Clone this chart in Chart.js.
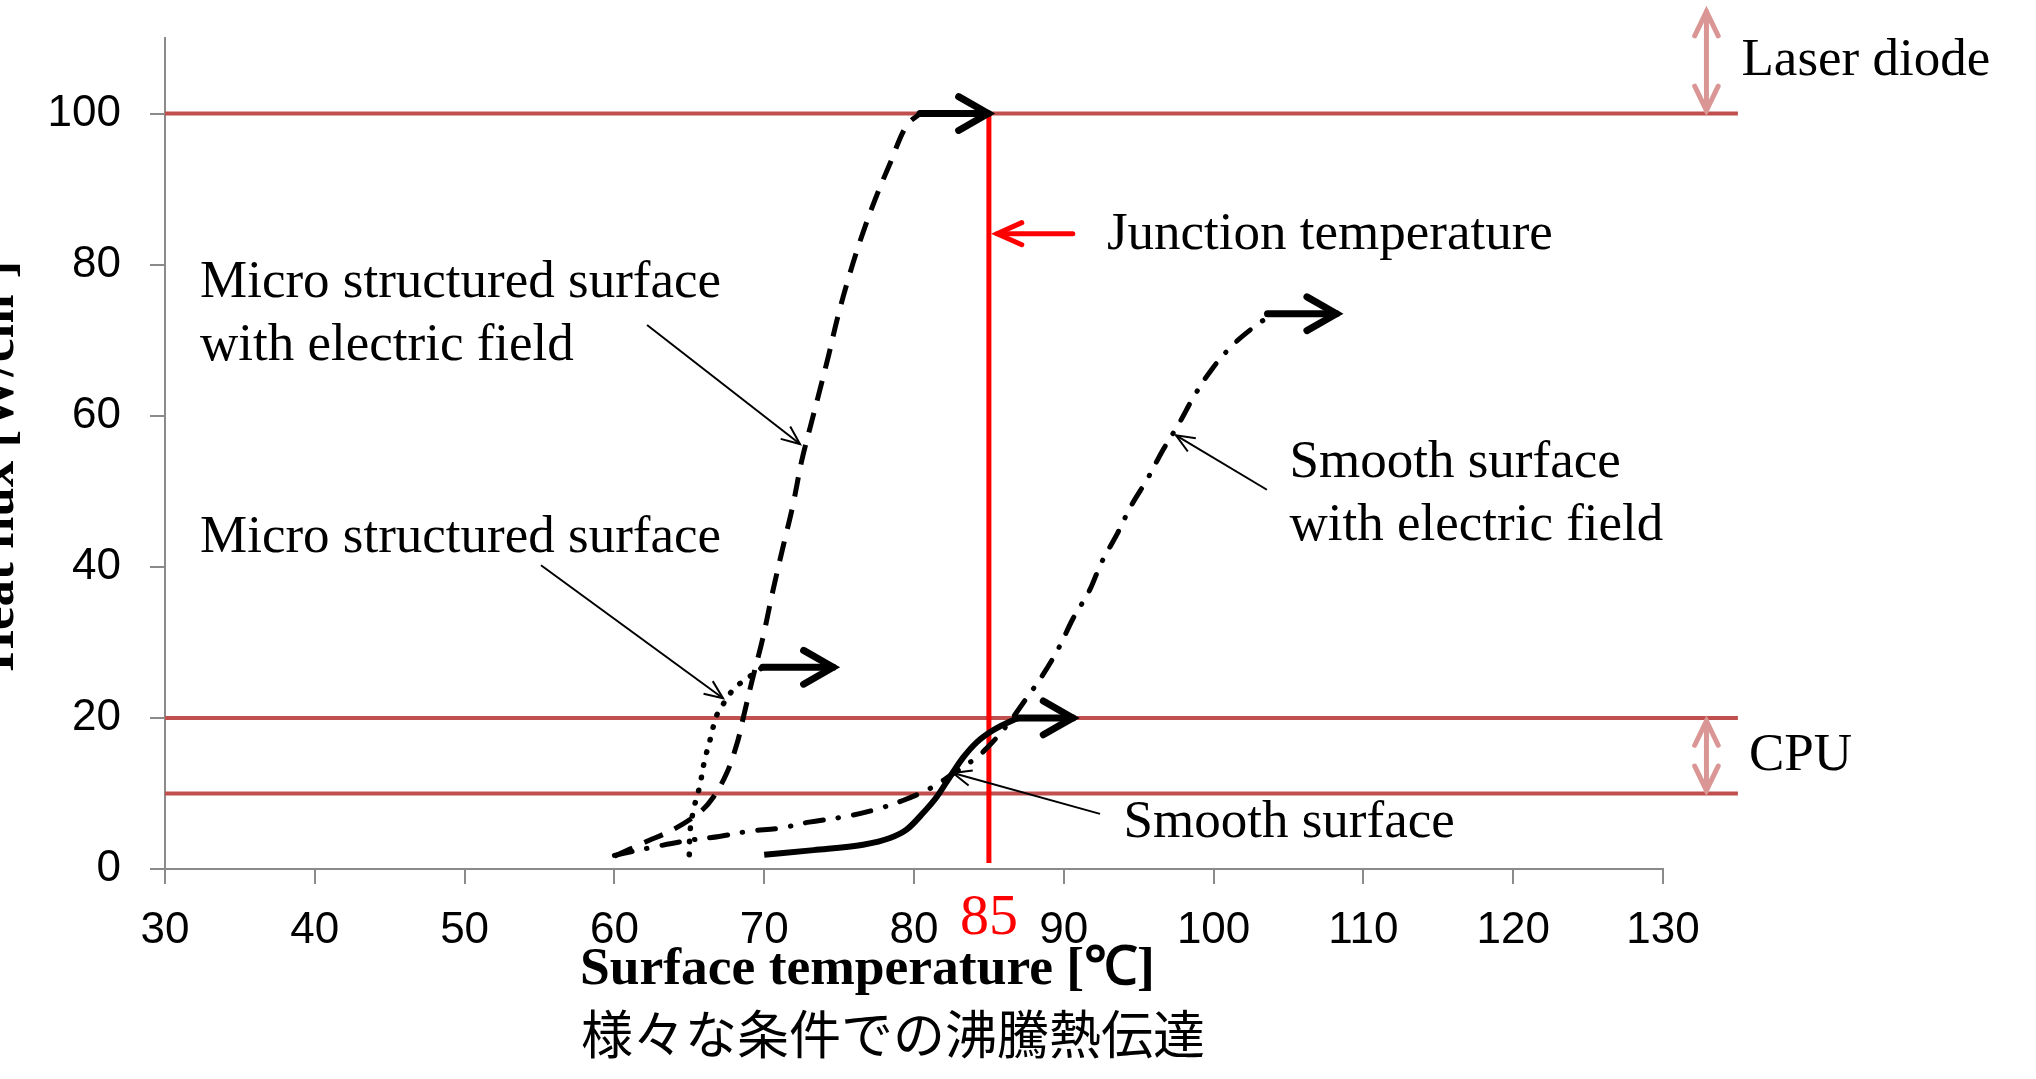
<!DOCTYPE html>
<html><head><meta charset="utf-8">
<script src="https://cdn.jsdelivr.net/npm/chart.js@4.4.0/dist/chart.umd.min.js"></script>
<style>html,body{margin:0;padding:0;background:#fff;}canvas{display:block;}</style>
</head><body>
<canvas id="c" width="2036" height="1079"></canvas>
<script>
// ---- axis ticks ----
const xTicks = [30, 40, 50, 60, 70, 80, 90, 100, 110, 120, 130];
const yTicks = [0, 20, 40, 60, 80, 100];

// ---- reference levels ----
const limitLevels = [100, 20, 10];          // Laser diode (100), CPU band (10-20)
const limitRange = [30, 135];               // x extent of the limit lines
const junctionTemp = 85;                    // junction temperature [°C]
const junctionRange = [0.8, 100];

// ---- Micro structured surface with electric field (dashed) ----
const msEfX = [60, 62, 64, 65.7, 66.6, 67.5, 68.2, 68.6, 69.2, 69.9, 70.6, 71.3, 71.9, 72.5, 73.1, 73.7, 74.3, 74.9, 75.7, 76.5, 77.4, 78.4, 79.5, 80.4];
const msEfY = [1.7, 3.5, 5.3, 7.5, 9.5, 12.7, 16.7, 20, 25, 30.5, 37, 43, 48, 54, 58.7, 63.3, 68, 73, 78.7, 83.7, 88.6, 93.4, 98.4, 100];

// ---- Micro structured surface (dotted) ----
const msX = [65, 65.05, 65.3, 65.7, 66, 66.4, 66.8, 67.2, 67.6, 68.1, 68.7, 69.4, 69.9];
const msY = [1.9, 5, 8, 11, 14.2, 17.2, 20.2, 21.6, 22.9, 24.1, 25, 26, 26.7];

// ---- Smooth surface (solid) ----
const ssX = [70, 73.3, 76.6, 78.4, 79.5, 80.6, 81.5, 82.4, 83.3, 84.2, 85.3, 86.6, 87];
const ssY = [1.9, 2.5, 3.2, 4.1, 5.2, 7.4, 9.5, 12.2, 14.8, 16.8, 18.4, 19.7, 20];

// ---- Smooth surface with electric field (dash-dot) ----
const ssEfX = [60, 62.6, 65, 67, 69, 71, 73, 75.3, 77.3, 79.3, 81.2, 82.5, 84.2, 85.2, 86.2, 87.4, 88.6, 89.7, 90.6, 91.7, 92.5, 93.6, 94.5, 95.6, 96.6, 97.7, 98.7, 99.9, 101.3, 102.6, 103.8];
const ssEfY = [1.8, 2.9, 3.8, 4.3, 5, 5.4, 6.2, 6.9, 7.8, 9.1, 10.8, 12.5, 14.8, 16.7, 19, 22.3, 25.7, 29.4, 33.1, 36.8, 40.5, 44.5, 48.1, 51.7, 55.4, 59, 62.6, 66.2, 69.4, 71.6, 73.3];

// ---- "beyond" arrows at curve ends ----
const endArrowX0 = [80.4, 69.9, 86.9, 103.6];
const endArrowX1 = [84.95, 74.6, 90.6, 108.2];
const endArrowY = [100, 26.7, 20, 73.5];

// ---- label texts ----
const xTitle = 'Surface temperature [\u2103]';
const yTitle = 'Heat flux [W/cm\u00B2]';
const caption = '様々な条件での沸騰熱伝達';

const pts = (xs, ys) => xs.map((x, i) => ({ x: x, y: ys[i] }));

const LIMIT_COLOR = '#C0504D';
const PINK = '#D99694';

const datasets = [];
datasets.push({ label: 'Micro structured surface with electric field', data: pts(msEfX, msEfY), borderColor: '#000', borderWidth: 5, borderDash: [20, 13], borderCapStyle: 'butt', order: 1 });
datasets.push({ label: 'Micro structured surface', data: pts(msX, msY), borderColor: '#000', borderWidth: 5.5, borderDash: [0.5, 12.5], borderCapStyle: 'round', order: 1 });
datasets.push({ label: 'Smooth surface', data: pts(ssX, ssY), borderColor: '#000', borderWidth: 6, order: 1, cubicInterpolationMode: 'monotone' });
datasets.push({ label: 'Smooth surface with electric field', data: pts(ssEfX, ssEfY), borderColor: '#000', borderWidth: 5, borderDash: [18, 15, 0.5, 15], borderCapStyle: 'round', order: 1 });
datasets.push({ label: 'Junction', data: [{ x: junctionTemp, y: junctionRange[0] }, { x: junctionTemp, y: junctionRange[1] }], borderColor: '#FF0000', borderWidth: 5, order: 2 });
limitLevels.forEach(v => datasets.push({ label: 'limit ' + v, data: [{ x: limitRange[0], y: v }, { x: limitRange[1], y: v }], borderColor: LIMIT_COLOR, borderWidth: 4, clip: false, order: 3 }));

function head(ctx, x1, y1, x2, y2, len, ang) {
  const a = Math.atan2(y2 - y1, x2 - x1);
  ctx.beginPath();
  ctx.moveTo(x2 - len * Math.cos(a - ang), y2 - len * Math.sin(a - ang));
  ctx.lineTo(x2, y2);
  ctx.lineTo(x2 - len * Math.cos(a + ang), y2 - len * Math.sin(a + ang));
  ctx.stroke();
}
function arrow(ctx, x1, y1, x2, y2, o) {
  ctx.save();
  ctx.strokeStyle = o.color; ctx.lineWidth = o.width; ctx.lineCap = o.cap || 'round'; ctx.lineJoin = 'miter';
  ctx.beginPath(); ctx.moveTo(x1, y1); ctx.lineTo(x2, y2); ctx.stroke();
  head(ctx, x1, y1, x2, y2, o.len, o.ang);
  if (o.both) head(ctx, x2, y2, x1, y1, o.len, o.ang);
  ctx.restore();
}

const annot = {
  id: 'annot',
  afterDatasetsDraw(chart) {
    const ctx = chart.ctx, xs = chart.scales.x, ys = chart.scales.y;
    const X = v => xs.getPixelForValue(v), Y = v => ys.getPixelForValue(v);
    endArrowY.forEach((y, i) => arrow(ctx, X(endArrowX0[i]), Y(y), X(endArrowX1[i]), Y(y), { color: '#000', width: 7, len: 34, ang: 0.52 }));
    arrow(ctx, X(90.6), Y(84.1), X(85.55), Y(84.1), { color: '#FF0000', width: 5, len: 27, ang: 0.42 });
    const px = X(132.9);
    arrow(ctx, px, Y(100.4), px, Y(113.5), { color: PINK, width: 5, len: 27, ang: 0.45, both: true });
    arrow(ctx, px, Y(10.4), px, Y(19.6), { color: PINK, width: 5, len: 27, ang: 0.45, both: true });
    const ptr = [[62.18, 72.0, 72.39, 56.25], [55.1, 40.2, 67.25, 22.6], [103.56, 50.2, 97.49, 57.4], [92.42, 7.3, 82.6, 12.7]];
    ptr.forEach(p => arrow(ctx, X(p[0]), Y(p[1]), X(p[2]), Y(p[3]), { color: '#000', width: 2, len: 20, ang: 0.4, cap: 'butt' }));
    ctx.save();
    ctx.fillStyle = '#000';
    ctx.font = '53px "Liberation Serif"';
    ctx.textAlign = 'left'; ctx.textBaseline = 'alphabetic';
    const t = (s, x, y) => ctx.fillText(s, X(x), Y(y));
    t('Micro structured surface', 32.34, 75.7);
    t('with electric field', 32.34, 67.4);
    t('Micro structured surface', 32.34, 42.0);
    t('Junction temperature', 92.88, 82.1);
    t('Smooth surface', 105.07, 51.95);
    t('with electric field', 105.07, 43.6);
    t('Smooth surface', 93.99, 4.24);
    t('Laser diode', 135.24, 105.15);
    t('CPU', 135.74, 13.1);
    ctx.fillStyle = '#FF0000';
    ctx.font = '58px "Liberation Serif"';
    ctx.textAlign = 'center';
    ctx.fillText(String(junctionTemp), X(junctionTemp), Y(-8.6));
    ctx.fillStyle = '#000';
    ctx.font = 'bold 53.5px "Liberation Serif"';
    ctx.textAlign = 'left';
    ctx.fillText(xTitle, 580, 984);
    ctx.font = '52px "Noto Sans CJK JP"';
    ctx.fillText(caption, 581, 1054);
    ctx.translate(13, 466);
    ctx.rotate(-Math.PI / 2);
    ctx.font = 'bold 53px "Liberation Serif"';
    ctx.textAlign = 'center';
    ctx.fillText(yTitle, 0, 0);
    ctx.restore();
  }
};

const tickFont = { family: '"Liberation Sans", Arial, sans-serif', size: 44 };
new Chart(document.getElementById('c'), {
  type: 'scatter',
  data: { datasets: datasets.map(d => Object.assign({ showLine: true, pointRadius: 0, pointHoverRadius: 0, fill: false, tension: 0.35 }, d)) },
  options: {
    responsive: false, animation: false, devicePixelRatio: 1,
    layout: { padding: { left: 0, right: 373, top: 38, bottom: 0 } },
    plugins: { legend: { display: false }, tooltip: { enabled: false } },
    scales: {
      x: {
        type: 'linear', min: 30, max: 130,
        afterBuildTicks: s => { s.ticks = xTicks.map(v => ({ value: v })); },
        afterFit: s => { s.height = 210; s.paddingLeft = 0; s.paddingRight = 0; },
        ticks: { font: tickFont, color: '#000', padding: 20, maxRotation: 0, autoSkip: false },
        grid: { drawOnChartArea: false, drawTicks: true, tickLength: 15, color: '#8a8a8a', lineWidth: 2 },
        border: { color: '#8a8a8a', width: 2 }
      },
      y: {
        type: 'linear', min: 0, max: 110,
        afterBuildTicks: s => { s.ticks = yTicks.map(v => ({ value: v })); },
        afterFit: s => { s.width = 165; s.paddingTop = 0; s.paddingBottom = 0; },
        ticks: { font: tickFont, color: '#000', padding: 29 },
        grid: { drawOnChartArea: false, drawTicks: true, tickLength: 15, color: '#8a8a8a', lineWidth: 2 },
        border: { color: '#8a8a8a', width: 2 }
      }
    }
  },
  plugins: [annot]
});
</script>
</body></html>
